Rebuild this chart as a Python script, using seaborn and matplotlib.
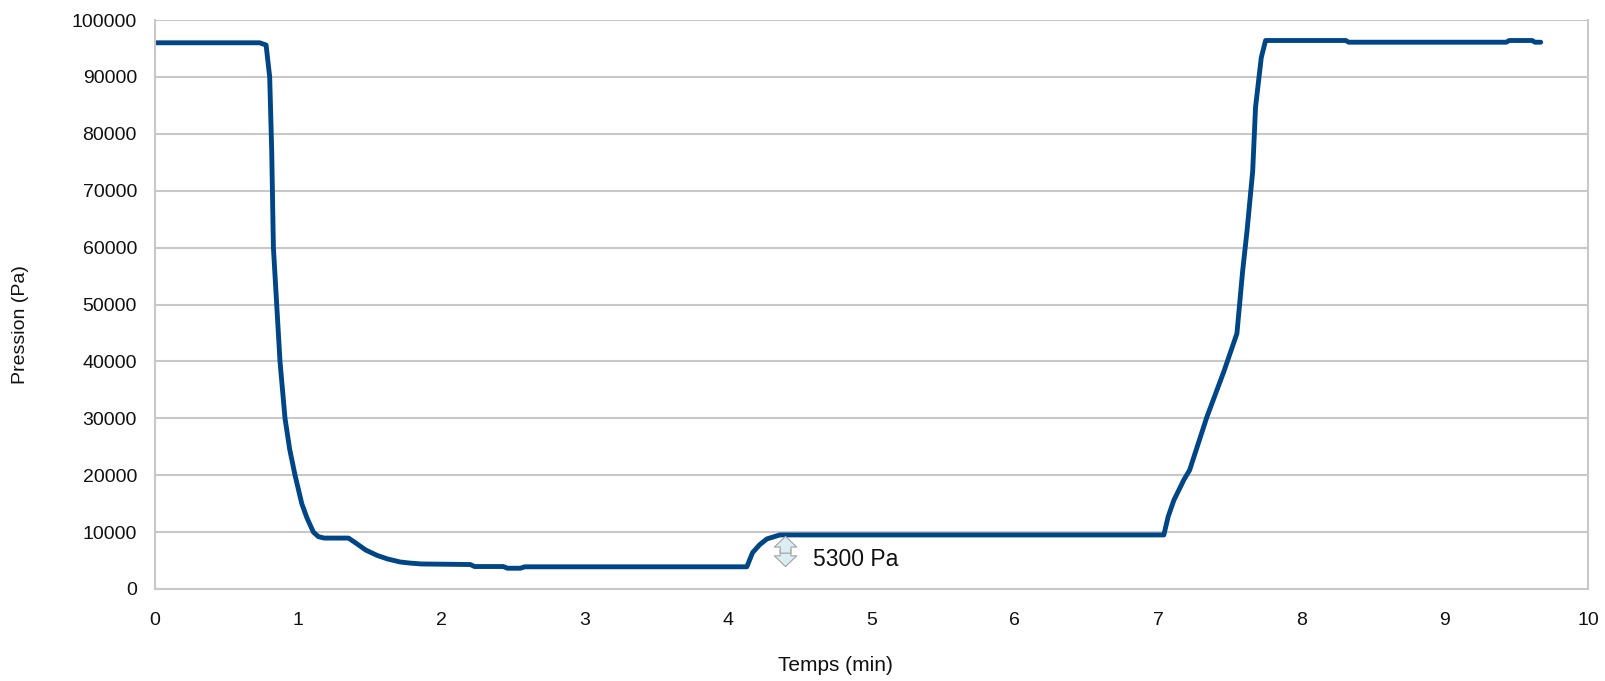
import numpy as np
import pandas as pd
import seaborn as sns
import matplotlib.pyplot as plt

# pression vs temps
temps = [0.0, 0.73, 0.775, 0.80, 0.814, 0.826, 0.849, 0.872, 0.907, 0.94, 0.977,
         1.024, 1.06, 1.105, 1.14, 1.18, 1.35, 1.40, 1.47, 1.55, 1.62, 1.71, 1.78,
         1.86, 2.20, 2.23, 2.43, 2.46, 2.55, 2.58, 4.13, 4.17, 4.22, 4.27, 4.36,
         7.04, 7.07, 7.11, 7.18, 7.22, 7.34, 7.46, 7.55, 7.59, 7.62, 7.66, 7.68,
         7.72, 7.75, 8.31, 8.33, 9.43, 9.45, 9.61, 9.63, 9.67]
pression = [96000, 96000, 95600, 90000, 77200, 60000, 50000, 40000, 30000, 24500, 20000,
            15000, 12500, 10000, 9200, 8950, 8950, 8100, 6850, 5900, 5300, 4750, 4550,
            4400, 4300, 3950, 3950, 3650, 3650, 3900, 3900, 6400, 7800, 8800, 9500,
            9500, 12700, 15600, 19200, 20900, 30200, 38300, 44900, 55900, 62800, 73400, 84700,
            93400, 96400, 96400, 96100, 96100, 96400, 96400, 96100, 96100]

xticks = list(range(0, 11))
yticks = list(range(0, 100001, 10000))

df = pd.DataFrame({"temps": temps, "pression": pression})

sns.set_style("white")
plt.rcParams['font.family'] = ['Liberation Sans', 'DejaVu Sans']

fig = plt.figure(figsize=(16.05, 6.81), dpi=100)
ax = fig.add_axes([0.0966, 0.1351, 0.8928, 0.8355])

sns.lineplot(data=df, x="temps", y="pression", ax=ax, color="#004586",
             linewidth=3.5, sort=False, solid_joinstyle="round")

ax.set_xlim(0, 10)
ax.set_ylim(0, 100000)
ax.set_xticks(xticks)
ax.set_yticks(yticks)
ax.set_xticklabels([str(v) for v in xticks])
ax.set_yticklabels([str(v) for v in yticks])
ax.grid(axis="y", color="#c8c8c8", linewidth=1.5)
ax.set_axisbelow(True)
for s in ax.spines.values():
    s.set_color("#c8c8c8")
    s.set_linewidth(1.5)
ax.spines["top"].set_visible(False)
ax.tick_params(axis="both", colors="#c8c8c8", length=6.5, width=1.5,
               labelcolor="#111111", labelsize=14)
ax.tick_params(axis="x", pad=10)
ax.tick_params(axis="y", pad=6.5)

ax.set_xlabel("Temps (min)", fontsize=15, color="#111111")
ax.set_ylabel("Pression (Pa)", fontsize=14, color="#111111")
ax.xaxis.set_label_coords(0.475, -0.135)
ax.yaxis.set_label_coords(-0.094, 0.465)
ax.xaxis.label.set_va("center")
ax.yaxis.label.set_va("center")

# double fleche 5300 Pa
style = "simple,head_width=1.15,head_length=0.55,tail_width=0.55"
ax.annotate("", xy=(4.40, 3950), xytext=(4.40, 6900),
            arrowprops=dict(arrowstyle=style, fc="#dbeef4", ec="#a0a0a0", lw=0.8,
                            mutation_scale=14, shrinkA=0, shrinkB=0))
ax.annotate("", xy=(4.40, 9250), xytext=(4.40, 6300),
            arrowprops=dict(arrowstyle=style, fc="#dbeef4", ec="#a0a0a0", lw=0.8,
                            mutation_scale=14, shrinkA=0, shrinkB=0))
ax.text(4.59, 5100, "5300 Pa", fontsize=16.5, color="#111111", va="center", ha="left")

fig.savefig("out.png", dpi=100)
